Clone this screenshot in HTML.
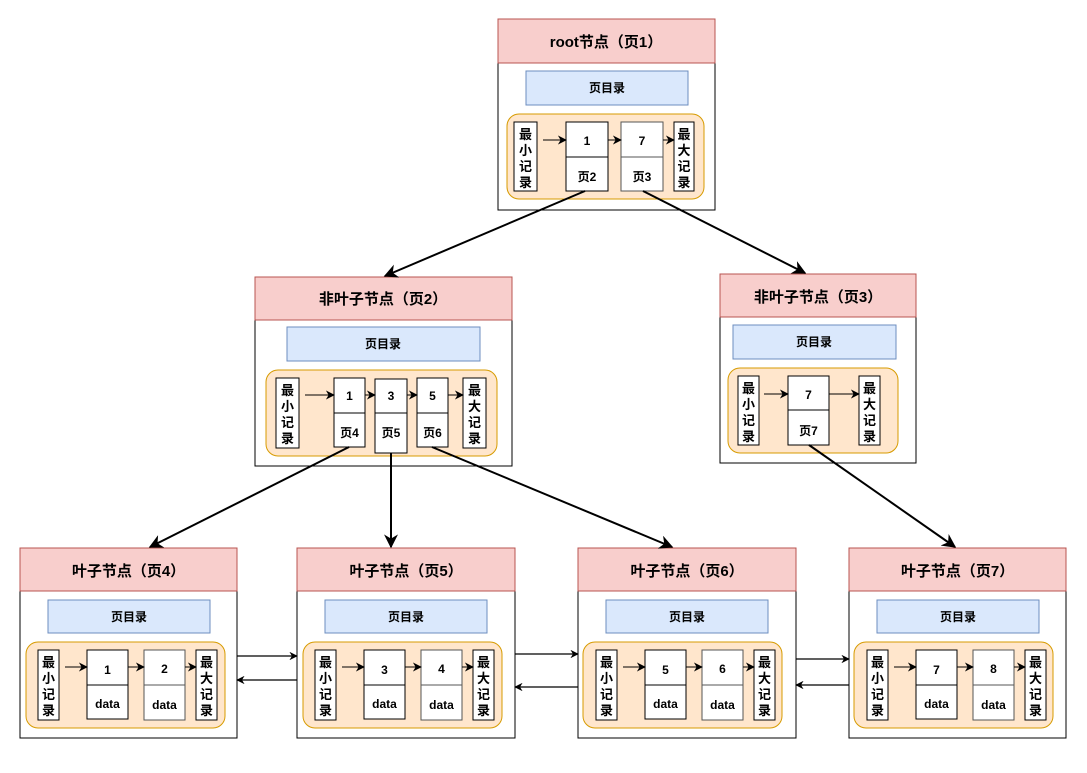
<!DOCTYPE html>
<html><head><meta charset="utf-8"><style>
html,body{margin:0;padding:0;background:#fff;}
svg text{font-family:"Liberation Sans","Noto Sans CJK SC",sans-serif;font-weight:bold;fill:#000;text-anchor:middle;}
</style></head><body>
<svg width="1087" height="768" viewBox="0 0 1087 768" xmlns="http://www.w3.org/2000/svg">
<defs><marker id="a" viewBox="0 0 10 10" refX="9" refY="5" markerWidth="7" markerHeight="7" orient="auto"><path d="M0,0 L10,5 L0,10 L3,5 z" fill="#000"/></marker>
<marker id="s" viewBox="0 0 10 10" refX="9" refY="5" markerWidth="9" markerHeight="9" orient="auto" markerUnits="userSpaceOnUse"><path d="M0,0 L10,5 L0,10 L3,5 z" fill="#000"/></marker></defs>
<g stroke-width="1">

<!-- ROOT -->
<g transform="translate(498,19)">
<rect x="0" y="0" width="217" height="191" fill="#fff" stroke="#000"/>
<rect x="0" y="0" width="217" height="44" fill="#f8cecc" stroke="#b85450"/>
<text x="108" y="28" font-size="15">root节点（页1）</text>
<rect x="28" y="52" width="162" height="34" fill="#dae8fc" stroke="#6c8ebf"/>
<text x="109" y="73" font-size="12">页目录</text>
<rect x="9" y="95" width="197" height="85" rx="12" fill="#ffe6cc" stroke="#d79b00"/>
<rect x="16" y="103" width="23" height="69" fill="#fff" stroke="#000"/>
<text x="27.5" y="120" font-size="13">最</text><text x="27.5" y="136" font-size="13">小</text><text x="27.5" y="152" font-size="13">记</text><text x="27.5" y="168" font-size="13">录</text>
<rect x="68" y="103" width="42" height="69" fill="#fff" stroke="#000"/><line x1="68" y1="138" x2="110" y2="138" stroke="#000"/>
<text x="89" y="126" font-size="12">1</text><text x="89" y="162" font-size="12">页2</text>
<rect x="123" y="103" width="42" height="69" fill="#fff" stroke="#555"/><line x1="123" y1="138" x2="165" y2="138" stroke="#555"/>
<text x="144" y="126" font-size="12">7</text><text x="144" y="162" font-size="12">页3</text>
<rect x="176" y="103" width="20" height="69" fill="#fff" stroke="#000"/>
<text x="186" y="120" font-size="13">最</text><text x="186" y="136" font-size="13">大</text><text x="186" y="152" font-size="13">记</text><text x="186" y="168" font-size="13">录</text>
<line x1="45" y1="121" x2="68" y2="121" stroke="#000" marker-end="url(#s)"/>
<line x1="110" y1="121" x2="123" y2="121" stroke="#000" marker-end="url(#s)"/>
<line x1="165" y1="121" x2="176" y2="121" stroke="#000" marker-end="url(#s)"/>
</g>

<!-- PAGE 2 -->
<g transform="translate(255,277)">
<rect x="0" y="0" width="257" height="189" fill="#fff" stroke="#000"/>
<rect x="0" y="0" width="257" height="43" fill="#f8cecc" stroke="#b85450"/>
<text x="128" y="27" font-size="15">非叶子节点（页2）</text>
<rect x="32" y="50" width="193" height="34" fill="#dae8fc" stroke="#6c8ebf"/>
<text x="128" y="71" font-size="12">页目录</text>
<rect x="11" y="93" width="231" height="86" rx="12" fill="#ffe6cc" stroke="#d79b00"/>
<rect x="21" y="101" width="23" height="70" fill="#fff" stroke="#000"/>
<text x="32.5" y="118" font-size="13">最</text><text x="32.5" y="134" font-size="13">小</text><text x="32.5" y="150" font-size="13">记</text><text x="32.5" y="166" font-size="13">录</text>
<rect x="79" y="101" width="31" height="69" fill="#fff" stroke="#000"/><line x1="79" y1="136" x2="110" y2="136" stroke="#000"/>
<text x="94.5" y="123" font-size="12">1</text><text x="94.5" y="160" font-size="12">页4</text>
<rect x="120" y="102" width="32" height="74" fill="#fff" stroke="#000"/><line x1="120" y1="136" x2="152" y2="136" stroke="#000"/>
<text x="136" y="123" font-size="12">3</text><text x="136" y="160" font-size="12">页5</text>
<rect x="162" y="101" width="31" height="69" fill="#fff" stroke="#000"/><line x1="162" y1="136" x2="193" y2="136" stroke="#000"/>
<text x="177.5" y="123" font-size="12">5</text><text x="177.5" y="160" font-size="12">页6</text>
<rect x="208" y="101" width="23" height="70" fill="#fff" stroke="#000"/>
<text x="219.5" y="118" font-size="13">最</text><text x="219.5" y="134" font-size="13">大</text><text x="219.5" y="150" font-size="13">记</text><text x="219.5" y="166" font-size="13">录</text>
<line x1="50" y1="118" x2="79" y2="118" stroke="#000" marker-end="url(#s)"/>
<line x1="110" y1="118" x2="120" y2="118" stroke="#000" marker-end="url(#s)"/>
<line x1="152" y1="118" x2="162" y2="118" stroke="#000" marker-end="url(#s)"/>
<line x1="193" y1="118" x2="208" y2="118" stroke="#000" marker-end="url(#s)"/>
</g>

<!-- PAGE 3 -->
<g transform="translate(720,274)">
<rect x="0" y="0" width="196" height="189" fill="#fff" stroke="#000"/>
<rect x="0" y="0" width="196" height="43" fill="#f8cecc" stroke="#b85450"/>
<text x="98" y="28" font-size="15">非叶子节点（页3）</text>
<rect x="13" y="51" width="163" height="34" fill="#dae8fc" stroke="#6c8ebf"/>
<text x="94" y="72" font-size="12">页目录</text>
<rect x="8" y="94" width="170" height="85" rx="12" fill="#ffe6cc" stroke="#d79b00"/>
<rect x="18" y="102" width="21" height="69" fill="#fff" stroke="#000"/>
<text x="28.5" y="119" font-size="13">最</text><text x="28.5" y="135" font-size="13">小</text><text x="28.5" y="151" font-size="13">记</text><text x="28.5" y="167" font-size="13">录</text>
<rect x="68" y="102" width="41" height="69" fill="#fff" stroke="#000"/><line x1="68" y1="136" x2="109" y2="136" stroke="#000"/>
<text x="88.5" y="125" font-size="12">7</text><text x="88.5" y="161" font-size="12">页7</text>
<rect x="139" y="102" width="21" height="69" fill="#fff" stroke="#000"/>
<text x="149.5" y="119" font-size="13">最</text><text x="149.5" y="135" font-size="13">大</text><text x="149.5" y="151" font-size="13">记</text><text x="149.5" y="167" font-size="13">录</text>
<line x1="44" y1="120" x2="68" y2="120" stroke="#000" marker-end="url(#s)"/>
<line x1="109" y1="120" x2="139" y2="120" stroke="#000" marker-end="url(#s)"/>
</g>

<!-- LEAF 4 -->
<g transform="translate(20,548)">
<rect x="0" y="0" width="217" height="190" fill="#fff" stroke="#000"/>
<rect x="0" y="0" width="217" height="43" fill="#f8cecc" stroke="#b85450"/>
<text x="108.5" y="28" font-size="15">叶子节点（页4）</text>
<rect x="28" y="52" width="162" height="33" fill="#dae8fc" stroke="#6c8ebf"/>
<text x="109" y="73" font-size="12">页目录</text>
<rect x="6" y="94" width="199" height="86" rx="12" fill="#ffe6cc" stroke="#d79b00"/>
<rect x="18" y="102" width="21" height="70" fill="#fff" stroke="#000"/>
<text x="28.5" y="119" font-size="13">最</text><text x="28.5" y="135" font-size="13">小</text><text x="28.5" y="151" font-size="13">记</text><text x="28.5" y="167" font-size="13">录</text>
<rect x="67" y="102" width="41" height="69" fill="#fff" stroke="#000"/><line x1="67" y1="137" x2="108" y2="137" stroke="#000"/>
<text x="87.5" y="126" font-size="12">1</text><text x="87.5" y="160" font-size="12">data</text>
<rect x="124" y="102" width="41" height="70" fill="#fff" stroke="#555"/><line x1="124" y1="137" x2="165" y2="137" stroke="#555"/>
<text x="144.5" y="125" font-size="12">2</text><text x="144.5" y="161" font-size="12">data</text>
<rect x="176" y="102" width="21" height="70" fill="#fff" stroke="#000"/>
<text x="186.5" y="119" font-size="13">最</text><text x="186.5" y="135" font-size="13">大</text><text x="186.5" y="151" font-size="13">记</text><text x="186.5" y="167" font-size="13">录</text>
<line x1="45" y1="119" x2="67" y2="119" stroke="#000" marker-end="url(#s)"/>
<line x1="108" y1="119" x2="124" y2="119" stroke="#000" marker-end="url(#s)"/>
<line x1="165" y1="119" x2="176" y2="119" stroke="#000" marker-end="url(#s)"/>
</g>

<!-- LEAF 5 -->
<g transform="translate(297,548)">
<rect x="0" y="0" width="218" height="190" fill="#fff" stroke="#000"/>
<rect x="0" y="0" width="218" height="43" fill="#f8cecc" stroke="#b85450"/>
<text x="109" y="28" font-size="15">叶子节点（页5）</text>
<rect x="28" y="52" width="162" height="33" fill="#dae8fc" stroke="#6c8ebf"/>
<text x="109" y="73" font-size="12">页目录</text>
<rect x="6" y="94" width="199" height="86" rx="12" fill="#ffe6cc" stroke="#d79b00"/>
<rect x="18" y="102" width="21" height="70" fill="#fff" stroke="#000"/>
<text x="28.5" y="119" font-size="13">最</text><text x="28.5" y="135" font-size="13">小</text><text x="28.5" y="151" font-size="13">记</text><text x="28.5" y="167" font-size="13">录</text>
<rect x="67" y="102" width="41" height="69" fill="#fff" stroke="#000"/><line x1="67" y1="137" x2="108" y2="137" stroke="#000"/>
<text x="87.5" y="126" font-size="12">3</text><text x="87.5" y="160" font-size="12">data</text>
<rect x="124" y="102" width="41" height="70" fill="#fff" stroke="#555"/><line x1="124" y1="137" x2="165" y2="137" stroke="#555"/>
<text x="144.5" y="125" font-size="12">4</text><text x="144.5" y="161" font-size="12">data</text>
<rect x="176" y="102" width="21" height="70" fill="#fff" stroke="#000"/>
<text x="186.5" y="119" font-size="13">最</text><text x="186.5" y="135" font-size="13">大</text><text x="186.5" y="151" font-size="13">记</text><text x="186.5" y="167" font-size="13">录</text>
<line x1="45" y1="119" x2="67" y2="119" stroke="#000" marker-end="url(#s)"/>
<line x1="108" y1="119" x2="124" y2="119" stroke="#000" marker-end="url(#s)"/>
<line x1="165" y1="119" x2="176" y2="119" stroke="#000" marker-end="url(#s)"/>
</g>

<!-- LEAF 6 -->
<g transform="translate(578,548)">
<rect x="0" y="0" width="218" height="190" fill="#fff" stroke="#000"/>
<rect x="0" y="0" width="218" height="43" fill="#f8cecc" stroke="#b85450"/>
<text x="109" y="28" font-size="15">叶子节点（页6）</text>
<rect x="28" y="52" width="162" height="33" fill="#dae8fc" stroke="#6c8ebf"/>
<text x="109" y="73" font-size="12">页目录</text>
<rect x="5" y="94" width="199" height="86" rx="12" fill="#ffe6cc" stroke="#d79b00"/>
<rect x="18" y="102" width="21" height="70" fill="#fff" stroke="#000"/>
<text x="28.5" y="119" font-size="13">最</text><text x="28.5" y="135" font-size="13">小</text><text x="28.5" y="151" font-size="13">记</text><text x="28.5" y="167" font-size="13">录</text>
<rect x="67" y="102" width="41" height="69" fill="#fff" stroke="#000"/><line x1="67" y1="137" x2="108" y2="137" stroke="#000"/>
<text x="87.5" y="126" font-size="12">5</text><text x="87.5" y="160" font-size="12">data</text>
<rect x="124" y="102" width="41" height="70" fill="#fff" stroke="#555"/><line x1="124" y1="137" x2="165" y2="137" stroke="#555"/>
<text x="144.5" y="125" font-size="12">6</text><text x="144.5" y="161" font-size="12">data</text>
<rect x="176" y="102" width="21" height="70" fill="#fff" stroke="#000"/>
<text x="186.5" y="119" font-size="13">最</text><text x="186.5" y="135" font-size="13">大</text><text x="186.5" y="151" font-size="13">记</text><text x="186.5" y="167" font-size="13">录</text>
<line x1="45" y1="119" x2="67" y2="119" stroke="#000" marker-end="url(#s)"/>
<line x1="108" y1="119" x2="124" y2="119" stroke="#000" marker-end="url(#s)"/>
<line x1="165" y1="119" x2="176" y2="119" stroke="#000" marker-end="url(#s)"/>
</g>

<!-- LEAF 7 -->
<g transform="translate(849,548)">
<rect x="0" y="0" width="217" height="190" fill="#fff" stroke="#000"/>
<rect x="0" y="0" width="217" height="43" fill="#f8cecc" stroke="#b85450"/>
<text x="108.5" y="28" font-size="15">叶子节点（页7）</text>
<rect x="28" y="52" width="162" height="33" fill="#dae8fc" stroke="#6c8ebf"/>
<text x="109" y="73" font-size="12">页目录</text>
<rect x="5" y="94" width="199" height="86" rx="12" fill="#ffe6cc" stroke="#d79b00"/>
<rect x="18" y="102" width="21" height="70" fill="#fff" stroke="#000"/>
<text x="28.5" y="119" font-size="13">最</text><text x="28.5" y="135" font-size="13">小</text><text x="28.5" y="151" font-size="13">记</text><text x="28.5" y="167" font-size="13">录</text>
<rect x="67" y="102" width="41" height="69" fill="#fff" stroke="#000"/><line x1="67" y1="137" x2="108" y2="137" stroke="#000"/>
<text x="87.5" y="126" font-size="12">7</text><text x="87.5" y="160" font-size="12">data</text>
<rect x="124" y="102" width="41" height="70" fill="#fff" stroke="#555"/><line x1="124" y1="137" x2="165" y2="137" stroke="#555"/>
<text x="144.5" y="125" font-size="12">8</text><text x="144.5" y="161" font-size="12">data</text>
<rect x="176" y="102" width="21" height="70" fill="#fff" stroke="#000"/>
<text x="186.5" y="119" font-size="13">最</text><text x="186.5" y="135" font-size="13">大</text><text x="186.5" y="151" font-size="13">记</text><text x="186.5" y="167" font-size="13">录</text>
<line x1="45" y1="119" x2="67" y2="119" stroke="#000" marker-end="url(#s)"/>
<line x1="108" y1="119" x2="124" y2="119" stroke="#000" marker-end="url(#s)"/>
<line x1="165" y1="119" x2="176" y2="119" stroke="#000" marker-end="url(#s)"/>
</g>

<!-- tree connectors -->
<g stroke="#000" stroke-width="2" fill="none">
<line x1="585" y1="191" x2="385" y2="276" marker-end="url(#a)"/>
<line x1="643" y1="191" x2="805" y2="273" marker-end="url(#a)"/>
<line x1="349" y1="447" x2="150" y2="547" marker-end="url(#a)"/>
<line x1="391" y1="453" x2="391" y2="547" marker-end="url(#a)"/>
<line x1="432" y1="447" x2="672" y2="547" marker-end="url(#a)"/>
<line x1="809" y1="445" x2="955" y2="547" marker-end="url(#a)"/>
</g>
<!-- sibling links -->
<g stroke="#000" stroke-width="1.2" fill="none">
<line x1="237" y1="656" x2="297" y2="656" marker-end="url(#a)"/>
<line x1="297" y1="680" x2="237" y2="680" marker-end="url(#a)"/>
<line x1="515" y1="654" x2="578" y2="654" marker-end="url(#a)"/>
<line x1="578" y1="687" x2="515" y2="687" marker-end="url(#a)"/>
<line x1="796" y1="659" x2="849" y2="659" marker-end="url(#a)"/>
<line x1="849" y1="685" x2="796" y2="685" marker-end="url(#a)"/>
</g>
</g>
</svg>
</body></html>
